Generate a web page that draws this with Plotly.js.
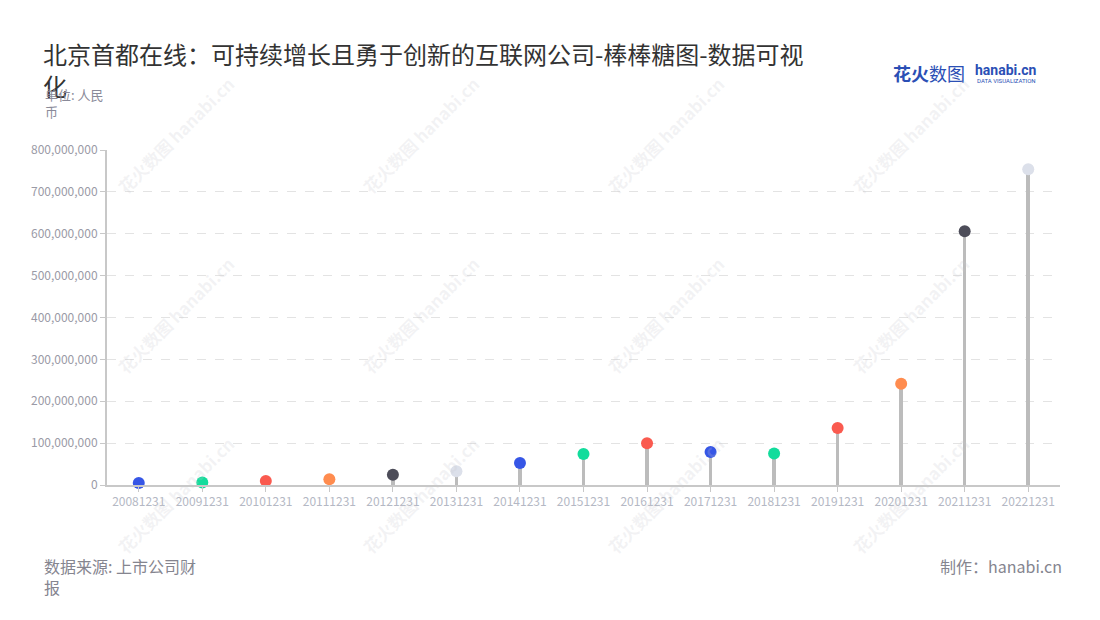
<!DOCTYPE html>
<html>
<head>
<meta charset="utf-8">
<script src="https://cdn.plot.ly/plotly-3.0.1.min.js"></script>
<style>
html,body{margin:0;padding:0;background:#fff;}
#chart{width:1100px;height:620px;}
</style>
</head>
<body>
<div id="chart"></div>
<script>
const categories = ["20081231","20091231","20101231","20111231","20121231","20131231","20141231","20151231","20161231","20171231","20181231","20191231","20201231","20211231","20221231"];
const values = [5000000, 6000000, 9500000, 13500000, 24500000, 33000000, 52500000, 74000000, 99500000, 79000000, 75000000, 136000000, 242000000, 606000000, 754000000];
const pointColors = ["#3656e6","#12dc9c","#fa5a4f","#ff8c4f","#4d4d59","#dce0ea","#3656e6","#12dc9c","#fa5a4f","#3656e6","#12dc9c","#fa5a4f","#ff8c4f","#4d4d59","#dce0ea"];
const titleText = "北京首都在线：可持续增长且勇于创新的互联网公司-棒棒糖图-数据可视<br>化";
const unitText = "单位: 人民<br>币";
const sourceText = "数据来源: 上市公司财<br>报";
const makerText = "制作：hanabi.cn";

const FONT = "'Noto Sans CJK SC', 'Noto Sans', sans-serif";

const stems = {
  type: "bar", x: categories, y: values, width: 0.055,
  marker: {color: "#bcbcbc", line: {width: 0}},
  hoverinfo: "skip", showlegend: false
};
const heads = {
  type: "scatter", mode: "markers", x: categories, y: values,
  marker: {color: pointColors, size: 12, line: {width: 0}},
  showlegend: false, cliponaxis: false
};

// helper: pixel -> paper coords (plot area x 107..1060, y 150..485)
const px2x = p => (p - 107) / 953;
const py2y = p => (485 - p) / 335;

const annotations = [
  {text: unitText, xref: "paper", yref: "paper", x: px2x(43), y: py2y(83), xanchor: "left", yanchor: "top", showarrow: false,
   align: "left", font: {family: FONT, size: 13, color: "#8a8a99"}},
  {text: sourceText, xref: "paper", yref: "paper", x: px2x(42), y: py2y(552), xanchor: "left", yanchor: "top", showarrow: false,
   align: "left", font: {family: FONT, size: 16, color: "#85858f"}},
  {text: makerText, xref: "paper", yref: "paper", x: px2x(1064), y: py2y(552), xanchor: "right", yanchor: "top", showarrow: false,
   align: "right", font: {family: FONT, size: 16, color: "#85858f"}},
  {text: "<b>花火</b>数图", xref: "paper", yref: "paper", x: px2x(891), y: py2y(73), xanchor: "left", yanchor: "middle", showarrow: false,
   font: {family: FONT, size: 18, color: "#2b4fb5"}},
  {text: "<b>hanabi.cn</b>", xref: "paper", yref: "paper", x: px2x(973), y: py2y(70), xanchor: "left", yanchor: "middle", showarrow: false,
   font: {family: "Roboto, sans-serif", size: 14, color: "#2b4fb5"}},
  {text: "DATA VISUALIZATION", xref: "paper", yref: "paper", x: px2x(975), y: py2y(80), xanchor: "left", yanchor: "middle", showarrow: false,
   font: {family: "Roboto, sans-serif", size: 6, color: "#2b4fb5"}}
];

// faint watermarks
const wmX = [175, 420, 665, 910];
const wmY = [135, 315, 495];
wmY.forEach(py => wmX.forEach(px => {
  annotations.push({
    text: "<b>花火数图</b> <b>hanabi.cn</b>", xref: "paper", yref: "paper",
    x: px2x(px), y: py2y(py), xanchor: "center", yanchor: "middle",
    showarrow: false, textangle: -45,
    font: {family: FONT, size: 17, color: "rgba(200,200,205,0.22)"}
  });
}));

const layout = {
  width: 1100, height: 620,
  paper_bgcolor: "#ffffff", plot_bgcolor: "#ffffff",
  margin: {l: 107, r: 40, t: 150, b: 135},
  title: {text: titleText, x: 0.039, xanchor: "left", y: 0.896, yanchor: "top",
          font: {family: FONT, size: 24, color: "#333333"}},
  font: {family: FONT},
  bargap: 0,
  xaxis: {
    type: "category", range: [-0.5, 14.5], autorange: false,
    showline: true, linecolor: "#c8c8c8", linewidth: 2,
    ticks: "outside", ticklen: 5, tickcolor: "#c8c8c8", tickwidth: 1,
    tickfont: {family: FONT, size: 12, color: "#b4b8c4"},
    showgrid: false, zeroline: false, fixedrange: true
  },
  yaxis: {
    range: [0, 800000000], dtick: 100000000, tickformat: ",d",
    showline: true, linecolor: "#c8c8c8", linewidth: 2,
    ticks: "outside", ticklen: 5, tickcolor: "#c8c8c8",
    tickfont: {family: FONT, size: 12, color: "#9a9aa6"},
    showgrid: true, gridcolor: "#e3e3e3", griddash: "dash", gridwidth: 1,
    zeroline: false, fixedrange: true
  },
  annotations: annotations,
  showlegend: false
};

Plotly.newPlot("chart", [stems, heads], layout, {displayModeBar: false, staticPlot: true});
</script>
</body>
</html>
